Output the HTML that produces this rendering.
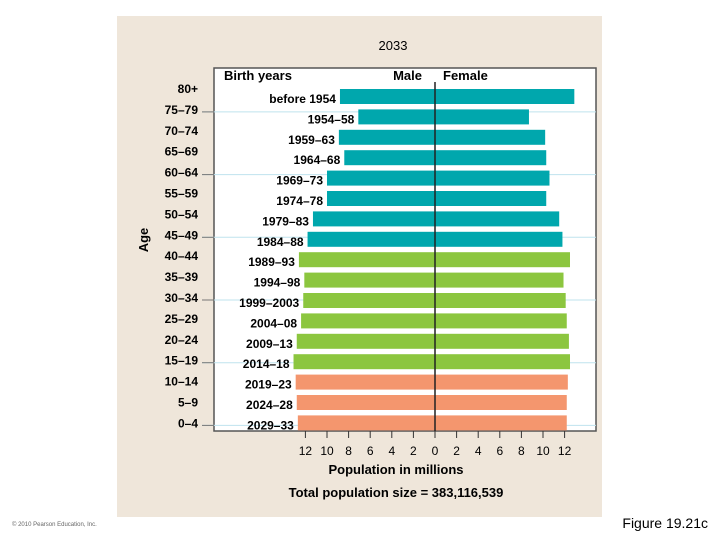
<!DOCTYPE html>
<html><head><meta charset="utf-8"><style>
body{margin:0;width:720px;height:540px;background:#fff;position:relative;overflow:hidden;font-family:"Liberation Sans",Arial,sans-serif}
svg text{font-family:"Liberation Sans",Arial,sans-serif}
</style></head><body>
<svg id="c" width="720" height="540">
<rect x="117" y="16" width="485" height="501" fill="#efe6da"/>
<text x="393" y="50" font-size="13" text-anchor="middle">2033</text>
<rect x="214" y="68" width="382" height="363" fill="#fff" stroke="#555" stroke-width="1.5"/>
<g id="grid"></g>
<g id="bars"></g>
<text x="224" y="80" font-size="13" font-weight="bold">Birth years</text>
<text x="422" y="80" font-size="13" font-weight="bold" text-anchor="end">Male</text>
<text x="443" y="80" font-size="13" font-weight="bold">Female</text>
<line x1="435" y1="82" x2="435" y2="431" stroke="#222" stroke-width="1.5"/>
<g id="labels"></g>
<g id="ticks"></g>
<text x="148" y="240" font-size="13" font-weight="bold" text-anchor="middle" transform="rotate(-90 148 240)">Age</text>
<text x="396" y="474" font-size="13" font-weight="bold" text-anchor="middle">Population in millions</text>
<text x="396" y="497" font-size="13" font-weight="bold" text-anchor="middle">Total population size = 383,116,539</text>
<text x="12" y="526" font-size="6" fill="#666">© 2010 Pearson Education, Inc.</text>
<text x="708" y="528" font-size="14" text-anchor="end">Figure 19.21c</text>
</svg>
<script>
const ages=["80+","75–79","70–74","65–69","60–64","55–59","50–54","45–49","40–44","35–39","30–34","25–29","20–24","15–19","10–14","5–9","0–4"];
const births=["before 1954","1954–58","1959–63","1964–68","1969–73","1974–78","1979–83","1984–88","1989–93","1994–98","1999–2003","2004–08","2009–13","2014–18","2019–23","2024–28","2029–33"];
const male=[8.8,7.1,8.9,8.4,10.0,10.0,11.3,11.8,12.6,12.1,12.2,12.4,12.8,13.1,12.9,12.8,12.7];
const female=[12.9,8.7,10.2,10.3,10.6,10.3,11.5,11.8,12.5,11.9,12.1,12.2,12.4,12.5,12.3,12.2,12.2];
const groups=["post","post","post","post","post","post","post","post","repro","repro","repro","repro","repro","repro","pre","pre","pre"];
const ticks=[12,10,8,6,4,2,0,2,4,6,8,10,12];
const colors={post:"#00a7ad",repro:"#8cc63f",pre:"#f4966e"};
const NS="http://www.w3.org/2000/svg";
const x0=435,k=10.8;
function xs(v,side){return side<0?x0-v*k:x0+v*k;}
function yRow(i){return 89+i*20.4;}
function yLab(i){return 89+i*20.9;}
function mk(t,a,p){const e=document.createElementNS(NS,t);for(const q in a)e.setAttribute(q,a[q]);p.appendChild(e);return e;}
const grid=document.getElementById('grid'),bars=document.getElementById('bars'),labels=document.getElementById('labels'),tk=document.getElementById('ticks');
ages.forEach((a,i)=>{
 const y=yRow(i),h=15,ly=yLab(i);
 if(i%3===1){const l=mk('line',{x1:202,x2:596,y1:ly+2,y2:ly+2,stroke:'#bfe3ee','stroke-width':1},grid);
 
 
 const t2=mk('line',{x1:202,x2:214,y1:ly+2,y2:ly+2,stroke:'#777','stroke-width':1},grid);
 
 }
 const m=mk('rect',{x:xs(male[i],-1),y:y,width:x0-xs(male[i],-1),height:h,fill:colors[groups[i]]},bars);
 
 
 const f=mk('rect',{x:x0,y:y,width:xs(female[i],1)-x0,height:h,fill:colors[groups[i]]},bars);
 
 
 const al=mk('text',{x:198,y:ly+4,'font-size':12,'font-weight':'bold','text-anchor':'end'},labels);al.textContent=a;
 
 
 const bl=mk('text',{x:xs(male[i],-1)-4,y:y+h-1,'font-size':12,'font-weight':'bold','text-anchor':'end'},labels);bl.textContent=births[i];
 
 
});
ticks.forEach((v,j)=>{
 const x=j<6?xs(v,-1):xs(v,1);
 const l=mk('line',{x1:x,x2:x,y1:431,y2:438,stroke:'#333','stroke-width':1},tk);
 
 
 const t=mk('text',{x:x,y:455,'font-size':12,'text-anchor':'middle'},tk);t.textContent=v;
 
 
});
</script>
</body></html>
